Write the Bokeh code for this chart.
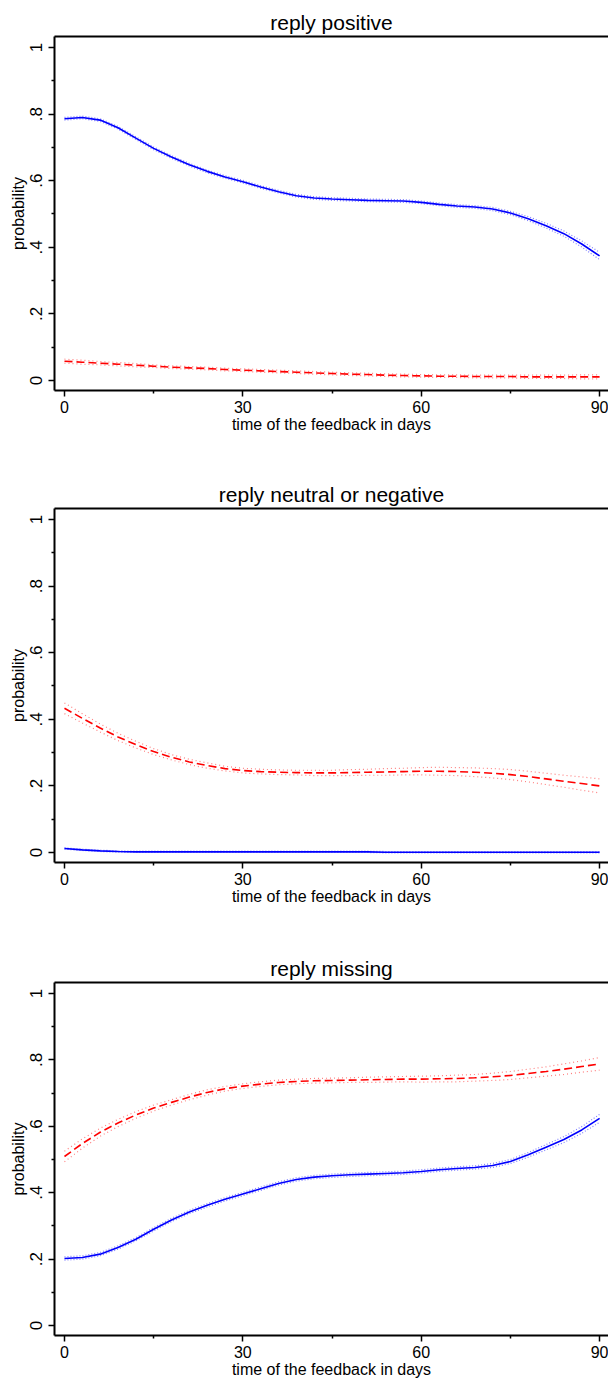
from bokeh.plotting import figure
from bokeh.layouts import column
from bokeh.models import FixedTicker, LinearAxis, Range1d, CustomJSTickFormatter
from bokeh.embed import file_html
from bokeh.resources import INLINE

# ---------------- data ----------------
days = [0, 3, 6, 9, 12, 15, 18, 21, 24, 27, 30, 33, 36, 39, 42, 45,
        48, 51, 54, 57, 60, 63, 66, 69, 72, 75, 78, 81, 84, 87, 90]

titles = ["reply positive", "reply neutral or negative", "reply missing"]

# panel 1: reply positive
pos_blue = [0.786, 0.790, 0.782, 0.759, 0.728, 0.697, 0.671, 0.648, 0.628, 0.611,
            0.597, 0.581, 0.567, 0.555, 0.548, 0.545, 0.543, 0.541, 0.540, 0.539,
            0.535, 0.529, 0.524, 0.521, 0.515, 0.503, 0.486, 0.465, 0.441, 0.410, 0.374]
pos_blue_hw = [0.004, 0.004, 0.004, 0.004, 0.004, 0.004, 0.004, 0.004, 0.004, 0.004,
               0.004, 0.004, 0.004, 0.004, 0.004, 0.004, 0.004, 0.004, 0.004, 0.004,
               0.004, 0.004, 0.004, 0.004, 0.005, 0.005, 0.006, 0.007, 0.008, 0.009, 0.011]
pos_red = [0.058, 0.055, 0.052, 0.049, 0.046, 0.043, 0.040, 0.038, 0.036, 0.033,
           0.031, 0.029, 0.027, 0.025, 0.023, 0.021, 0.019, 0.018, 0.016, 0.015,
           0.014, 0.013, 0.013, 0.012, 0.012, 0.012, 0.011, 0.011, 0.011, 0.011, 0.011]
pos_red_hw = [0.006, 0.006, 0.005, 0.005, 0.005, 0.004, 0.004, 0.004, 0.004, 0.004,
              0.004, 0.004, 0.004, 0.004, 0.004, 0.004, 0.004, 0.004, 0.004, 0.004,
              0.004, 0.004, 0.004, 0.004, 0.004, 0.004, 0.005, 0.005, 0.005, 0.006, 0.006]

# panel 2: reply neutral or negative
neg_blue = [0.012, 0.008, 0.005, 0.003, 0.002, 0.002, 0.002, 0.002, 0.002, 0.002,
            0.002, 0.002, 0.002, 0.002, 0.002, 0.002, 0.002, 0.002, 0.001, 0.001,
            0.001, 0.001, 0.001, 0.001, 0.001, 0.001, 0.001, 0.001, 0.001, 0.001, 0.001]
neg_blue_hw = [0.002] * 31
neg_red = [0.433, 0.403, 0.374, 0.347, 0.324, 0.303, 0.286, 0.272, 0.261, 0.252,
           0.246, 0.243, 0.241, 0.240, 0.239, 0.239, 0.240, 0.241, 0.242, 0.243,
           0.244, 0.244, 0.243, 0.241, 0.238, 0.234, 0.228, 0.221, 0.214, 0.207, 0.200]
neg_red_hw = [0.016, 0.014, 0.012, 0.011, 0.010, 0.009, 0.008, 0.008, 0.008, 0.007,
              0.007, 0.007, 0.007, 0.007, 0.008, 0.008, 0.009, 0.009, 0.010, 0.010,
              0.011, 0.012, 0.012, 0.013, 0.014, 0.015, 0.016, 0.017, 0.018, 0.020, 0.021]

# panel 3: reply missing
mis_blue = [0.202, 0.205, 0.215, 0.235, 0.260, 0.290, 0.318, 0.342, 0.362, 0.380,
            0.396, 0.412, 0.428, 0.440, 0.447, 0.451, 0.454, 0.456, 0.458, 0.460,
            0.464, 0.469, 0.473, 0.476, 0.482, 0.494, 0.514, 0.537, 0.560, 0.589, 0.624]
mis_blue_hw = [0.005, 0.005, 0.005, 0.005, 0.005, 0.005, 0.005, 0.005, 0.005, 0.005,
               0.005, 0.005, 0.005, 0.005, 0.005, 0.005, 0.005, 0.005, 0.005, 0.005,
               0.005, 0.005, 0.005, 0.005, 0.006, 0.006, 0.007, 0.008, 0.009, 0.010, 0.012]
mis_red = [0.509, 0.548, 0.582, 0.610, 0.634, 0.655, 0.672, 0.688, 0.702, 0.713,
           0.721, 0.727, 0.732, 0.735, 0.737, 0.738, 0.739, 0.740, 0.741, 0.742,
           0.742, 0.743, 0.744, 0.746, 0.749, 0.753, 0.759, 0.765, 0.772, 0.780, 0.788]
mis_red_hw = [0.016, 0.014, 0.012, 0.011, 0.010, 0.009, 0.008, 0.008, 0.008, 0.007,
              0.007, 0.007, 0.007, 0.007, 0.007, 0.007, 0.007, 0.008, 0.008, 0.008,
              0.009, 0.009, 0.010, 0.010, 0.011, 0.012, 0.013, 0.014, 0.016, 0.017, 0.019]

y_ticks = [0, 0.2, 0.4, 0.6, 0.8, 1]
y_minor = [0.1, 0.3, 0.5, 0.7, 0.9]
x_ticks = [0, 30, 60, 90]
x_minor = [15, 45, 75]

panels = [
    (titles[0], pos_blue, pos_blue_hw, pos_red, pos_red_hw),
    (titles[1], neg_blue, neg_blue_hw, neg_red, neg_red_hw),
    (titles[2], mis_blue, mis_blue_hw, mis_red, mis_red_hw),
]

FONT = "Liberation Sans"
heights = [472, 474, 434]
bottoms = [82, 84, 44]

figs = []
for i, (title, b, bhw, r, rhw) in enumerate(panels):
    p = figure(width=608, height=heights[i], output_backend="svg", toolbar_location=None,
               x_range=Range1d(-1.68, 91.5), y_range=Range1d(-0.030, 1.033),
               min_border_left=54, min_border_right=0, min_border_top=36,
               min_border_bottom=bottoms[i])
    p.title.text = title
    p.title.align = "center"
    p.title.text_font = FONT
    p.title.text_font_size = "21px"
    p.title.text_font_style = "normal"
    p.title.text_color = "black"
    p.title.standoff = 5
    p.outline_line_color = None
    p.grid.visible = False
    p.background_fill_color = "white"
    p.border_fill_color = "white"

    xa = p.below[0]
    ya = p.left[0]

    # top frame line
    top = LinearAxis(major_tick_line_color=None, minor_tick_line_color=None,
                     major_label_text_font_size="0px", axis_line_width=2,
                     axis_line_color="black", ticker=FixedTicker(ticks=[]),
                     major_label_standoff=0)
    p.add_layout(top, "above")

    xa.ticker = FixedTicker(ticks=x_ticks, minor_ticks=x_minor)
    xa.axis_label = "time of the feedback in days"
    ya.ticker = FixedTicker(ticks=y_ticks, minor_ticks=y_minor)
    ya.axis_label = "probability"
    ya.formatter = CustomJSTickFormatter(code="""
        if (Math.abs(tick) < 1e-9) return '0';
        if (Math.abs(tick - 1) < 1e-9) return '1';
        return tick.toFixed(1).replace(/^0/, '');
    """)
    ya.major_label_orientation = "vertical"
    for ax in (xa, ya):
        ax.axis_line_width = 2
        ax.axis_line_color = "black"
        ax.major_tick_line_width = 1.5
        ax.minor_tick_line_width = 1.5
        ax.major_tick_out = 6
        ax.major_tick_in = 0
        ax.minor_tick_out = 3
        ax.minor_tick_in = 0
        ax.major_label_text_font = FONT
        ax.major_label_text_font_size = "16px"
        ax.major_label_text_color = "black"
        ax.axis_label_text_font = FONT
        ax.axis_label_text_font_size = "16px"
        ax.axis_label_text_font_style = "normal"
        ax.axis_label_text_color = "black"
    ya.major_label_text_font_size = "17px"
    xa.major_label_standoff = 4
    xa.axis_label_standoff = 0
    ya.major_label_standoff = 6
    ya.axis_label_standoff = 1

    # confidence bands (dotted)
    b_lo = [v - h for v, h in zip(b, bhw)]
    b_hi = [v + h for v, h in zip(b, bhw)]
    r_lo = [v - h for v, h in zip(r, rhw)]
    r_hi = [v + h for v, h in zip(r, rhw)]
    for arr in (b_lo, b_hi):
        p.line(days, arr, line_color="#8080ff", line_width=1.2, line_dash="1 2")
    for arr in (r_lo, r_hi):
        p.line(days, arr, line_color="#ff8080", line_width=1.2, line_dash="1 3")
    p.line(days, b, line_color="#0000ff", line_width=1.6)
    p.line(days, r, line_color="#ff0000", line_width=1.6, line_dash="8 4")
    figs.append(p)

layout = column(*figs, spacing=0)
open("out.html", "w").write(file_html(layout, INLINE))
